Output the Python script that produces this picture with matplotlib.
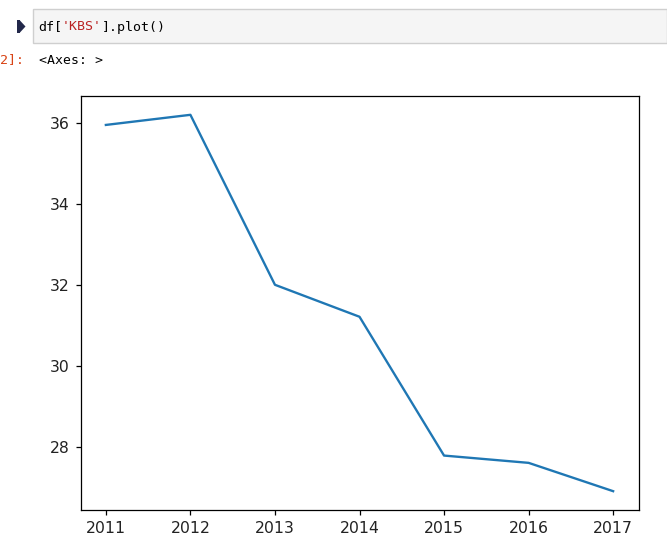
import matplotlib.pyplot as plt
from matplotlib.patches import Rectangle, Polygon

# KBS series
years = [2011, 2012, 2013, 2014, 2015, 2016, 2017]
kbs = [35.95, 36.2, 32.0, 31.21, 27.78, 27.6, 26.9]

W, H = 667, 548
fig = plt.figure(figsize=(W / 100, H / 100), dpi=100)

# screenshot is shown at ~112.5% zoom
s = 1.125

# notebook cell chrome drawn in figure pixel coords
def fx(px):
    return px / W

def fy(py):
    return 1 - py / H

fig.patches.append(Rectangle((fx(33), fy(43)), fx(667) - fx(33), fy(9) - fy(43),
                             transform=fig.transFigure, facecolor="#f5f5f5",
                             edgecolor="#cfcfcf", linewidth=1))
icon = "#22284a"
fig.patches.append(Rectangle((fx(17), fy(33)), fx(19.5) - fx(17), fy(20) - fy(33),
                             transform=fig.transFigure, facecolor=icon, edgecolor="none"))
fig.patches.append(Polygon([(fx(19.5), fy(20)), (fx(25.5), fy(26.5)), (fx(19.5), fy(33))],
                           closed=True, transform=fig.transFigure,
                           facecolor=icon, edgecolor="none"))

mono = "DejaVu Sans Mono"
fs = 9.5
cw = 7.93  # width of one mono char in px
x0 = 38
parts = [("df[", "#000000"), ("'KBS'", "#ba2121"), ("].plot()", "#000000")]
for txt, c in parts:
    fig.text(fx(x0), fy(27), txt, family=mono, fontsize=fs, color=c, va="center")
    x0 += cw * len(txt)

fig.text(fx(0), fy(60), "2]:", family=mono, fontsize=fs, color="#d84315", va="center")
fig.text(fx(39), fy(60), "<Axes: >", family=mono, fontsize=fs, color="#000000", va="center")

ax = fig.add_axes([fx(80.5), fy(510), fx(638.5) - fx(80.5), fy(96) - fy(510)])
ax.plot(years, kbs, color="#1f77b4", linewidth=1.5 * s)
ax.set_yticks([28, 30, 32, 34, 36])
ax.set_xticks(years)
ax.tick_params(labelsize=10 * s, length=3.5 * s, width=0.8 * s, pad=3.5 * s,
               labelcolor="#222222")
for sp in ax.spines.values():
    sp.set_linewidth(0.8 * s)

fig.savefig("out.png", dpi=100)
